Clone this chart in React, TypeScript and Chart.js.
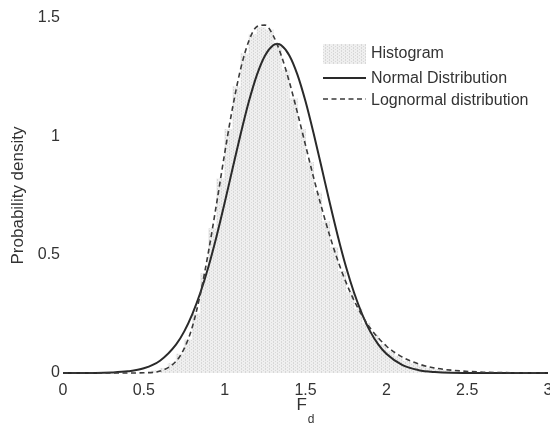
import React, { useEffect, useRef } from 'react';
import { Chart, registerables } from 'chart.js';

Chart.register(...registerables);

// ---- data ----
const normalX = [0, 0.2, 0.3, 0.4, 0.5, 0.6, 0.7, 0.75, 0.8, 0.85, 0.9, 0.95, 1.0, 1.05, 1.1, 1.15, 1.2, 1.25, 1.3, 1.325, 1.35, 1.4, 1.45, 1.5, 1.55, 1.6, 1.65, 1.7, 1.75, 1.8, 1.85, 1.9, 1.95, 2.0, 2.1, 2.2, 2.3, 2.4, 2.6, 3.0];
const normalY = [0, 0.0003, 0.002, 0.007, 0.02, 0.052, 0.121, 0.176, 0.249, 0.34, 0.45, 0.578, 0.719, 0.867, 1.013, 1.148, 1.261, 1.342, 1.385, 1.39, 1.385, 1.342, 1.261, 1.148, 1.013, 0.867, 0.719, 0.578, 0.45, 0.34, 0.249, 0.176, 0.121, 0.081, 0.033, 0.012, 0.004, 0.001, 0.0001, 0];

const lognormalX = [0, 0.4, 0.5, 0.6, 0.7, 0.75, 0.8, 0.85, 0.9, 0.95, 1.0, 1.05, 1.1, 1.15, 1.2, 1.25, 1.3, 1.35, 1.4, 1.45, 1.5, 1.55, 1.6, 1.65, 1.7, 1.75, 1.8, 1.85, 1.9, 2.0, 2.1, 2.2, 2.3, 2.4, 2.6, 2.8, 3.0];
const lognormalY = [0, 0, 0.001, 0.008, 0.05, 0.104, 0.195, 0.335, 0.513, 0.716, 0.928, 1.125, 1.288, 1.404, 1.464, 1.47, 1.426, 1.342, 1.23, 1.1, 0.963, 0.826, 0.698, 0.58, 0.475, 0.384, 0.307, 0.243, 0.19, 0.114, 0.067, 0.038, 0.021, 0.012, 0.0034, 0.001, 0.0003];

const histCenters = [0.575, 0.625, 0.675, 0.725, 0.775, 0.825, 0.875, 0.925, 0.975, 1.025, 1.075, 1.125, 1.175, 1.225, 1.275, 1.325, 1.375, 1.425, 1.475, 1.525, 1.575, 1.625, 1.675, 1.725, 1.775, 1.825, 1.875, 1.925, 1.975, 2.025, 2.075, 2.125, 2.175, 2.225, 2.275, 2.325, 2.375];
const histHeights = [0.01, 0.02, 0.04, 0.08, 0.14, 0.25, 0.42, 0.61, 0.82, 1.03, 1.21, 1.35, 1.43, 1.46, 1.45, 1.39, 1.28, 1.16, 1.03, 0.89, 0.76, 0.64, 0.53, 0.43, 0.34, 0.27, 0.21, 0.16, 0.12, 0.09, 0.07, 0.05, 0.04, 0.03, 0.02, 0.015, 0.01];

const legendLabels = ['Histogram', 'Normal Distribution', 'Lognormal distribution'];
const yTitle = 'Probability density';
const xTitleMain = 'F';
const xTitleSub = 'd';

const FONT = '"Liberation Sans", Arial, sans-serif';
const TEXT = '#333333';

function makePattern(ctx: CanvasRenderingContext2D) {
  const pc = document.createElement('canvas');
  pc.width = 4;
  pc.height = 3;
  const p = pc.getContext('2d')!;
  p.fillStyle = '#efefef';
  p.fillRect(0, 0, 4, 3);
  p.fillStyle = '#d8d8d8';
  p.fillRect(1, 0, 1, 1);
  p.fillRect(3, 1, 1, 1);
  p.fillRect(1, 2, 1, 1);
  return ctx.createPattern(pc, 'repeat')!;
}

const fmt = (v: any) => String(Number(v));

export default function App() {
  const ref = useRef<HTMLCanvasElement | null>(null);

  useEffect(() => {
    const canvas = ref.current!;
    const ctx2d = canvas.getContext('2d')!;
    const pattern = makePattern(ctx2d);

    const overlay = {
      id: 'overlay',
      afterDraw(chart: any) {
        const ctx = chart.ctx as CanvasRenderingContext2D;
        const { left, right, top, bottom } = chart.chartArea;
        ctx.save();
        // y axis title
        ctx.fillStyle = TEXT;
        ctx.font = `17px ${FONT}`;
        ctx.textAlign = 'center';
        ctx.textBaseline = 'middle';
        ctx.save();
        ctx.translate(18, (top + bottom) / 2);
        ctx.rotate(-Math.PI / 2);
        ctx.fillText(yTitle, 0, 0);
        ctx.restore();
        // x axis title F_d
        ctx.font = `17px ${FONT}`;
        ctx.textAlign = 'left';
        const cx = (left + right) / 2;
        const fw = ctx.measureText(xTitleMain).width;
        ctx.font = `12px ${FONT}`;
        const dw = ctx.measureText(xTitleSub).width;
        const startX = cx - (fw + dw + 1) / 2;
        ctx.font = `17px ${FONT}`;
        ctx.fillText(xTitleMain, startX, 405);
        ctx.font = `12px ${FONT}`;
        ctx.fillText(xTitleSub, startX + fw + 1, 420);

        // legend
        const lx = 323;
        const lw = 43;
        const tx = 371;
        const rows = [54, 79, 101];
        ctx.font = `16px ${FONT}`;
        ctx.fillStyle = pattern;
        ctx.fillRect(lx, rows[0] - 10, lw, 20);
        ctx.strokeStyle = '#2a2a2a';
        ctx.lineWidth = 2;
        ctx.setLineDash([]);
        ctx.beginPath();
        ctx.moveTo(lx, rows[1] - 1);
        ctx.lineTo(lx + lw, rows[1] - 1);
        ctx.stroke();
        ctx.strokeStyle = '#3a3a3a';
        ctx.lineWidth = 1.6;
        ctx.setLineDash([5, 3.5]);
        ctx.beginPath();
        ctx.moveTo(lx, rows[2] - 2);
        ctx.lineTo(lx + lw, rows[2] - 2);
        ctx.stroke();
        ctx.setLineDash([]);
        ctx.fillStyle = TEXT;
        ctx.textBaseline = 'middle';
        legendLabels.forEach((t, i) => ctx.fillText(t, tx, rows[i]));
        ctx.restore();
      },
    };

    const chart = new Chart(canvas, {
      type: 'bar',
      data: {
        datasets: [
          {
            type: 'line',
            label: legendLabels[1],
            data: normalX.map((x, i) => ({ x, y: normalY[i] })),
            borderColor: '#2a2a2a',
            borderWidth: 2,
            pointRadius: 0,
            cubicInterpolationMode: 'monotone',
            fill: false,
            clip: 6,
            order: 1,
          } as any,
          {
            type: 'line',
            label: legendLabels[2],
            data: lognormalX.map((x, i) => ({ x, y: lognormalY[i] })),
            borderColor: '#3a3a3a',
            borderWidth: 1.6,
            borderDash: [5, 3.5],
            pointRadius: 0,
            cubicInterpolationMode: 'monotone',
            fill: false,
            clip: 6,
            order: 0,
          } as any,
          {
            type: 'bar',
            label: legendLabels[0],
            data: histCenters.map((x, i) => ({ x, y: histHeights[i] })),
            backgroundColor: pattern as any,
            borderWidth: 0,
            barPercentage: 1,
            categoryPercentage: 1,
            grouped: false,
            order: 3,
          } as any,
        ],
      },
      options: {
        responsive: false,
        animation: false,
        devicePixelRatio: 1,
        layout: { padding: { top: 18, right: 2, left: 0, bottom: 0 } },
        plugins: { legend: { display: false }, tooltip: { enabled: false } },
        scales: {
          x: {
            type: 'linear',
            min: 0,
            max: 3,
            offset: false,
            grid: { display: false, drawTicks: false },
            border: { display: false },
            ticks: {
              stepSize: 0.5,
              padding: 8,
              color: TEXT,
              font: { size: 16, family: FONT },
              maxRotation: 0,
              autoSkip: false,
              callback: fmt,
            },
            afterFit: (s: any) => {
              s.height = 57;
              s.paddingLeft = 0;
              s.paddingRight = 0;
            },
          },
          y: {
            type: 'linear',
            min: 0,
            max: 1.5,
            grid: { display: false, drawTicks: false },
            border: { display: false },
            ticks: {
              stepSize: 0.5,
              padding: 3,
              color: TEXT,
              font: { size: 16, family: FONT },
              callback: fmt,
            },
            afterFit: (s: any) => {
              s.width = 63;
              s.paddingTop = 0;
              s.paddingBottom = 0;
            },
          },
        },
      },
      plugins: [overlay],
    });
    return () => chart.destroy();
  }, []);

  return (
    <div style={{ position: 'absolute', left: 0, top: 0, width: 550, height: 430, background: '#fff' }}>
      <canvas ref={ref} width={550} height={430} style={{ display: 'block' }} />
    </div>
  );
}
